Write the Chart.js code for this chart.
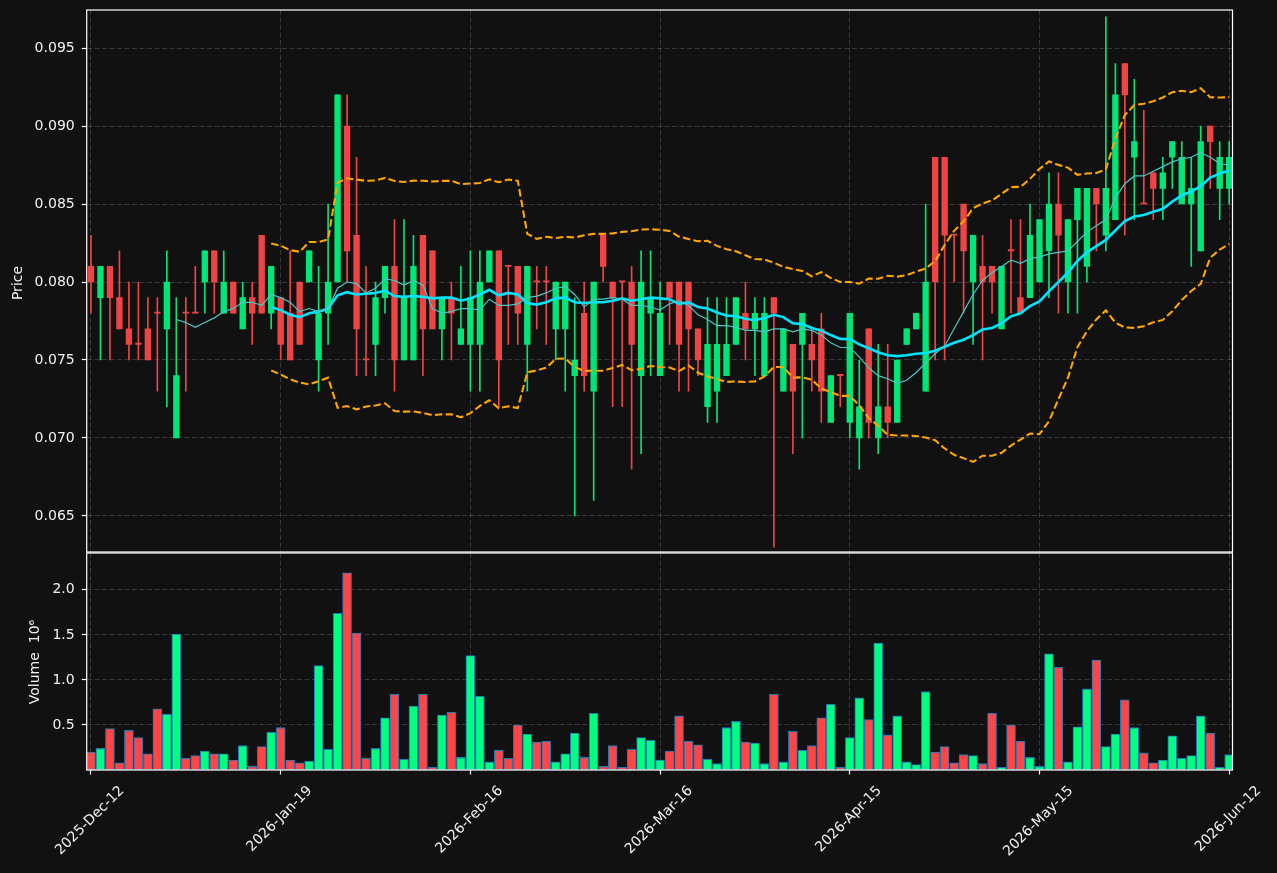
<!DOCTYPE html>
<html><head><meta charset="utf-8">
<script src="https://cdn.jsdelivr.net/npm/chart.js@4.4.1/dist/chart.umd.min.js"></script>
<style>
html,body{margin:0;padding:0;background:#111111;}
#wrap{position:relative;width:1277px;height:873px;background:#111111;overflow:hidden;}
canvas{position:absolute;left:0;}
#c1{top:0;}
#c2{top:552px;}
</style></head><body>
<div id="wrap"><canvas id="c1" width="1277" height="553"></canvas><canvas id="c2" width="1277" height="321"></canvas></div>
<script>
// ---- data ----
const opens = [0.081,0.079,0.081,0.079,0.077,0.076,0.077,0.078,0.077,0.070,
0.078,0.078,0.080,0.082,0.078,0.080,0.077,0.079,0.083,0.078,
0.079,0.078,0.080,0.080,0.075,0.078,0.080,0.090,0.083,0.075,
0.076,0.079,0.081,0.075,0.075,0.083,0.082,0.077,0.079,0.076,
0.076,0.076,0.080,0.082,0.081,0.081,0.076,0.080,0.080,0.077,
0.077,0.074,0.078,0.073,0.083,0.080,0.080,0.080,0.074,0.078,
0.074,0.080,0.080,0.080,0.077,0.072,0.073,0.074,0.076,0.078,
0.077,0.074,0.079,0.073,0.076,0.076,0.076,0.077,0.071,0.074,
0.071,0.070,0.077,0.070,0.072,0.071,0.076,0.077,0.073,0.088,
0.088,0.083,0.085,0.080,0.081,0.081,0.077,0.082,0.079,0.079,
0.080,0.082,0.085,0.080,0.084,0.081,0.086,0.083,0.084,0.094,
0.088,0.085,0.087,0.086,0.088,0.085,0.085,0.082,0.090,0.086,
0.086];
const highs = [0.083,0.081,0.081,0.082,0.080,0.080,0.079,0.079,0.082,0.079,
0.079,0.081,0.082,0.082,0.082,0.080,0.080,0.080,0.083,0.081,
0.079,0.082,0.080,0.082,0.081,0.085,0.092,0.092,0.088,0.081,
0.080,0.081,0.084,0.084,0.083,0.083,0.082,0.079,0.080,0.081,
0.082,0.082,0.082,0.082,0.081,0.081,0.081,0.081,0.081,0.080,
0.080,0.079,0.080,0.080,0.083,0.080,0.080,0.081,0.082,0.082,
0.080,0.080,0.080,0.080,0.077,0.079,0.079,0.079,0.079,0.080,
0.079,0.079,0.079,0.077,0.076,0.078,0.077,0.078,0.074,0.074,
0.078,0.075,0.077,0.076,0.076,0.075,0.077,0.078,0.085,0.088,
0.088,0.083,0.085,0.083,0.083,0.081,0.081,0.084,0.084,0.085,
0.084,0.087,0.087,0.084,0.086,0.086,0.086,0.097,0.094,0.094,
0.093,0.091,0.087,0.088,0.089,0.089,0.088,0.090,0.090,0.089,
0.089];
const lows = [0.078,0.075,0.075,0.077,0.075,0.075,0.075,0.073,0.072,0.070,
0.073,0.078,0.078,0.078,0.078,0.078,0.077,0.076,0.078,0.077,
0.075,0.075,0.076,0.080,0.073,0.076,0.080,0.080,0.074,0.074,
0.074,0.078,0.073,0.075,0.075,0.074,0.077,0.075,0.075,0.076,
0.073,0.073,0.080,0.072,0.076,0.076,0.073,0.077,0.076,0.075,
0.073,0.065,0.073,0.066,0.080,0.072,0.072,0.068,0.069,0.074,
0.074,0.076,0.073,0.073,0.074,0.071,0.071,0.074,0.076,0.075,
0.074,0.074,0.063,0.073,0.069,0.070,0.073,0.071,0.071,0.072,
0.070,0.068,0.070,0.069,0.070,0.071,0.076,0.077,0.073,0.075,
0.075,0.080,0.078,0.076,0.075,0.078,0.077,0.078,0.078,0.079,
0.080,0.079,0.078,0.078,0.078,0.080,0.082,0.082,0.084,0.083,
0.084,0.085,0.084,0.084,0.086,0.085,0.081,0.082,0.086,0.084,
0.085];
const closes = [0.080,0.081,0.079,0.077,0.076,0.076,0.075,0.078,0.080,0.074,
0.078,0.078,0.082,0.080,0.080,0.078,0.079,0.078,0.078,0.081,
0.076,0.075,0.076,0.082,0.078,0.080,0.092,0.082,0.077,0.075,
0.079,0.081,0.075,0.079,0.081,0.077,0.077,0.079,0.078,0.077,
0.079,0.080,0.082,0.075,0.081,0.078,0.081,0.080,0.080,0.080,
0.080,0.075,0.074,0.080,0.081,0.079,0.080,0.076,0.080,0.079,
0.078,0.079,0.076,0.077,0.075,0.076,0.076,0.076,0.079,0.077,
0.078,0.078,0.078,0.077,0.073,0.078,0.075,0.073,0.074,0.074,
0.078,0.072,0.071,0.072,0.071,0.075,0.077,0.078,0.080,0.080,
0.083,0.083,0.082,0.083,0.080,0.080,0.081,0.082,0.078,0.083,
0.084,0.085,0.083,0.084,0.086,0.086,0.085,0.086,0.092,0.092,
0.089,0.085,0.086,0.087,0.089,0.088,0.086,0.089,0.089,0.088,
0.088];
// volume in units of 10^6
const volumes = [0.20,0.24,0.46,0.08,0.44,0.36,0.18,0.68,0.62,1.51,
0.13,0.16,0.21,0.18,0.18,0.11,0.27,0.04,0.26,0.42,
0.47,0.11,0.08,0.10,1.16,0.23,1.74,2.19,1.52,0.13,
0.24,0.58,0.84,0.12,0.71,0.84,0.03,0.61,0.64,0.14,
1.27,0.82,0.09,0.22,0.13,0.50,0.40,0.31,0.32,0.09,
0.18,0.41,0.14,0.63,0.04,0.27,0.03,0.23,0.36,0.33,
0.11,0.21,0.60,0.32,0.28,0.12,0.07,0.47,0.54,0.31,
0.30,0.07,0.84,0.09,0.43,0.22,0.27,0.58,0.73,0.03,
0.36,0.80,0.56,1.41,0.39,0.60,0.09,0.06,0.87,0.20,
0.26,0.08,0.17,0.16,0.07,0.63,0.03,0.50,0.32,0.14,
0.04,1.29,1.14,0.09,0.48,0.90,1.22,0.26,0.40,0.78,
0.47,0.19,0.08,0.11,0.38,0.13,0.16,0.60,0.41,0.03,
0.17];
const xTickPositions = [0,20,40,60,80,100,120];
const xTickLabels = ['2025-Dec-12','2026-Jan-19','2026-Feb-16','2026-Mar-16','2026-Apr-15','2026-May-15','2026-Jun-12'];
const priceTicks = [0.065,0.070,0.075,0.080,0.085,0.090,0.095];
const volumeTicks = [0.5,1.0,1.5,2.0];

// ---- indicators derived from closes (10/20 moving averages, 20-period bands) ----
function movingAvg(arr, n){
  const out = [];
  for (let i = n - 1; i < arr.length; i++){
    let s = 0; for (let k = i - n + 1; k <= i; k++) s += arr[k];
    out.push({x: i, y: s / n});
  }
  return out;
}
function bands(arr, n, m){
  const up = [], lo = [];
  for (let i = n - 1; i < arr.length; i++){
    let s = 0; for (let k = i - n + 1; k <= i; k++) s += arr[k];
    const mean = s / n;
    let v = 0; for (let k = i - n + 1; k <= i; k++) v += (arr[k]-mean)*(arr[k]-mean);
    const sd = Math.sqrt(v / n);
    up.push({x:i, y: mean + m*sd}); lo.push({x:i, y: mean - m*sd});
  }
  return [up, lo];
}
const ma10 = movingAvg(closes, 10);
const ma20 = movingAvg(closes, 20);
const [bbUp, bbLo] = bands(closes, 20, 2);

// ---- styling ----
const FONT = "'DejaVu Sans', sans-serif";
const TXT = '#f2f2f2';
const GRID = 'rgba(255,255,255,0.17)';
const DASH = [5, 2.5];
const UP = '#00e676', DOWN = '#ef4444';
const VUP = '#00ff80', VDOWN = '#ff4545';
const XMIN = -0.45, XMAX = 120.35;
const idx = closes.map((_, i) => i);
const isUp = idx.map(i => closes[i] > opens[i]);
const candleColors = isUp.map(u => u ? UP : DOWN);
const volColors = isUp.map(u => u ? VUP : VDOWN);

const framePlugin = {
  id: 'frame',
  afterDraw(chart){
    const {ctx, chartArea: a} = chart;
    ctx.save();
    ctx.strokeStyle = '#ffffff'; ctx.lineWidth = 1.2;
    ctx.strokeRect(a.left, a.top, a.right - a.left, a.bottom - a.top);
    ctx.restore();
  }
};
function yTitle(text, cx, cy){
  return {
    id: 'ytitle_' + text.length,
    afterDraw(chart){
      const ctx = chart.ctx;
      ctx.save();
      ctx.translate(cx, cy); ctx.rotate(-Math.PI/2);
      ctx.fillStyle = TXT; ctx.font = '14px ' + FONT;
      ctx.textAlign = 'center'; ctx.textBaseline = 'middle';
      ctx.fillText(text, 0, 0);
      ctx.restore();
    }
  };
}
const xLabelPlugin = {
  id: 'xlabels',
  afterDraw(chart){
    const ctx = chart.ctx, sx = chart.scales.x, bottom = chart.chartArea.bottom;
    ctx.save();
    ctx.fillStyle = TXT; ctx.font = '14px ' + FONT;
    ctx.textAlign = 'center'; ctx.textBaseline = 'middle';
    xTickPositions.forEach((p, k) => {
      const t = xTickLabels[k];
      const w = ctx.measureText(t).width;
      const h = (w + 13) * Math.SQRT1_2;
      const x = sx.getPixelForValue(p);
      const y = bottom + 14 + h / 2;
      ctx.save(); ctx.translate(x - 1, y); ctx.rotate(-Math.PI/4);
      ctx.fillText(t, 0, 0); ctx.restore();
    });
    ctx.restore();
  }
};
function noPad(s){ s.paddingTop = 0; s.paddingBottom = 0; s.paddingLeft = 0; s.paddingRight = 0; }

function xScale(height, ticks){
  return {
    type: 'linear', min: XMIN, max: XMAX, offset: false,
    afterFit(s){ s.height = height; noPad(s); },
    afterBuildTicks(s){ s.ticks = xTickPositions.map(v => ({value: v})); },
    ticks: {display: false},
    grid: {offset: false, color: GRID, lineWidth: 1, drawTicks: ticks, tickColor: '#ffffff', tickLength: 4.5, tickWidth: 1.2},
    border: {display: false, dash: DASH}
  };
}

new Chart(document.getElementById('c1'), {
  type: 'bar',
  data: { datasets: [
    {type: 'line', label: 'MA10', data: ma10, borderColor: '#4cc6c6', borderWidth: 1.2, pointRadius: 0, tension: 0, order: 0},
    {type: 'line', label: 'MA20', data: ma20, borderColor: '#00e5ff', borderWidth: 2.6, pointRadius: 0, tension: 0, order: 0},
    {type: 'line', label: 'Upper', data: bbUp, borderColor: '#ffa500', borderWidth: 2.1, borderDash: [7.5, 3.3], pointRadius: 0, tension: 0, order: 0},
    {type: 'line', label: 'Lower', data: bbLo, borderColor: '#ffa500', borderWidth: 2.1, borderDash: [7.5, 3.3], pointRadius: 0, tension: 0, order: 0},
    {label: 'Body', data: idx.map(i => ({x: i, y: [opens[i], closes[i]]})), backgroundColor: candleColors, barThickness: 5.7, grouped: false, minBarLength: 1.2, borderWidth: 0, order: 1},
    {label: 'Wick', data: idx.map(i => ({x: i, y: [lows[i], highs[i]]})), backgroundColor: candleColors, barThickness: 1, grouped: false, borderWidth: 0, order: 2}
  ]},
  options: {
    responsive: false, animation: false, events: [],
    layout: {autoPadding: false, padding: {left: 0, right: 44.5, top: 10, bottom: 1}},
    plugins: {legend: {display: false}, tooltip: {enabled: false}},
    scales: {
      x: xScale(0, false),
      y: {
        type: 'linear', min: 0.06269, max: 0.09744,
        afterFit(s){ s.width = 86.7; noPad(s); },
        afterBuildTicks(s){ s.ticks = priceTicks.map(v => ({value: v})); },
        ticks: {color: TXT, font: {family: FONT, size: 14}, padding: 7, callback: v => v.toFixed(3)},
        grid: {color: GRID, tickColor: '#ffffff', tickLength: 5, tickWidth: 1.2},
        border: {display: false, dash: DASH}
      }
    }
  },
  plugins: [framePlugin, yTitle('Price', 18, 283)]
});

new Chart(document.getElementById('c2'), {
  type: 'bar',
  data: { datasets: [
    {label: 'Volume', data: idx.map(i => ({x: i, y: volumes[i]})), backgroundColor: volColors, borderColor: '#1f77b4', borderWidth: 1.1, borderSkipped: false, barThickness: 9, grouped: false}
  ]},
  options: {
    responsive: false, animation: false, events: [],
    layout: {autoPadding: false, padding: {left: 0, right: 44.5, top: 1, bottom: 0}},
    plugins: {legend: {display: false}, tooltip: {enabled: false}},
    scales: {
      x: xScale(103, true),
      y: {
        type: 'linear', min: 0, max: 2.409,
        afterFit(s){ s.width = 86.7; noPad(s); },
        afterBuildTicks(s){ s.ticks = volumeTicks.map(v => ({value: v})); },
        ticks: {color: TXT, font: {family: FONT, size: 14}, padding: 7, callback: v => v.toFixed(1)},
        grid: {color: GRID, tickColor: '#ffffff', tickLength: 5, tickWidth: 1.2},
        border: {display: false, dash: DASH}
      }
    }
  },
  plugins: [framePlugin, xLabelPlugin, yTitle('Volume  10\u2076', 35, 110)]
});
</script>
</body></html>
